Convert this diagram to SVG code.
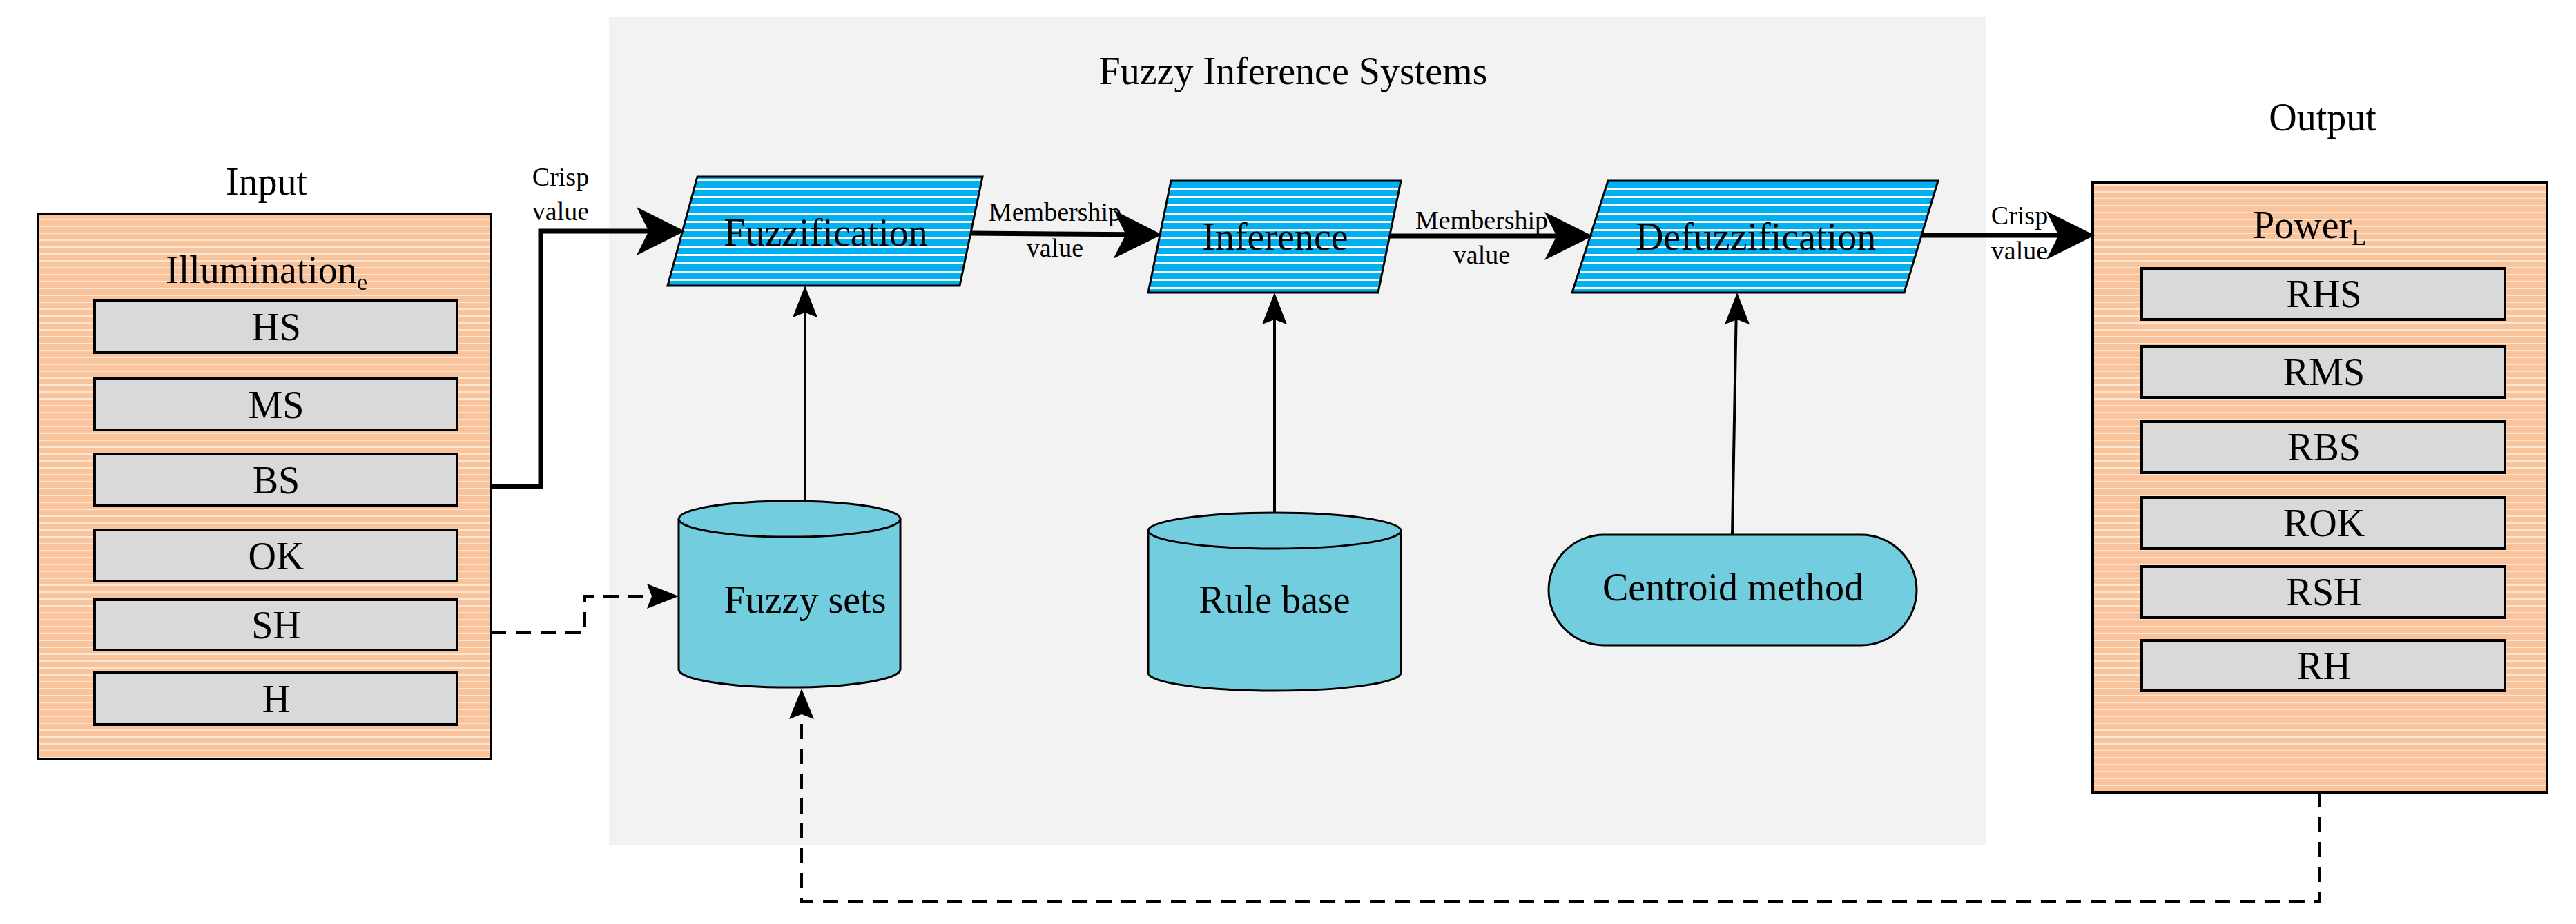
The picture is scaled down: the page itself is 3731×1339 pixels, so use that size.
<svg xmlns="http://www.w3.org/2000/svg" width="3731" height="1339" viewBox="0 0 3731 1339">
<defs>
<pattern id="blue" width="10" height="12" patternUnits="userSpaceOnUse"><rect width="10" height="12" fill="#00b0f0"/><rect y="8" width="10" height="3" fill="#ffffff"/></pattern>
<pattern id="orange" width="10" height="10" patternUnits="userSpaceOnUse"><rect width="10" height="10" fill="#f9c39c"/><rect y="7" width="10" height="2" fill="#fde6d4"/></pattern>
<marker id="ah" markerWidth="10" markerHeight="10" refX="9" refY="5" orient="auto" markerUnits="strokeWidth"><path d="M0,0 L10,5 L0,10 L2.5,5 z" fill="#000"/></marker>
</defs>
<style>
text{font-family:"Liberation Serif","Times New Roman",serif;fill:#000;text-anchor:middle}
.big{font-size:56px}
.sm{font-size:38px}
.item{fill:#d9d9d9;stroke:#000;stroke-width:4}
.para{fill:url(#blue);stroke:#000;stroke-width:3}
.cyl{fill:#72cddf;stroke:#000;stroke-width:3}
.ln{fill:none;stroke:#000;stroke-width:7}
.thin{fill:none;stroke:#000;stroke-width:4}
.dash{fill:none;stroke:#000;stroke-width:4;stroke-dasharray:22 14}
</style>
<rect x="882" y="24" width="1994" height="1201" fill="#f2f2f2"/>
<text class="big" x="1873" y="122">Fuzzy Inference Systems</text>
<g id="input">
<text class="big" x="386" y="282">Input</text>
<rect x="55" y="310" width="656" height="790" fill="url(#orange)" stroke="#000" stroke-width="4"/>
<text class="big" x="386" y="410">Illumination<tspan font-size="34" dy="10">e</tspan></text>
<rect class="item" x="137" y="436" width="525" height="75"/><text class="big" x="400" y="493">HS</text>
<rect class="item" x="137" y="549" width="525" height="74"/><text class="big" x="400" y="606">MS</text>
<rect class="item" x="137" y="658" width="525" height="75"/><text class="big" x="400" y="715">BS</text>
<rect class="item" x="137" y="768" width="525" height="74"/><text class="big" x="400" y="825">OK</text>
<rect class="item" x="137" y="869" width="525" height="73"/><text class="big" x="400" y="925">SH</text>
<rect class="item" x="137" y="975" width="525" height="75"/><text class="big" x="400" y="1032">H</text>
</g>
<g id="output">
<text class="big" x="3364" y="189">Output</text>
<rect x="3031" y="264" width="658" height="884" fill="url(#orange)" stroke="#000" stroke-width="4"/>
<text class="big" x="3345" y="345">Power<tspan font-size="34" dy="10">L</tspan></text>
<rect class="item" x="3102" y="389" width="526" height="74"/><text class="big" x="3366" y="445">RHS</text>
<rect class="item" x="3102" y="502" width="526" height="74"/><text class="big" x="3366" y="558">RMS</text>
<rect class="item" x="3102" y="611" width="526" height="74"/><text class="big" x="3366" y="667">RBS</text>
<rect class="item" x="3102" y="721" width="526" height="74"/><text class="big" x="3366" y="777">ROK</text>
<rect class="item" x="3102" y="821" width="526" height="74"/><text class="big" x="3366" y="877">RSH</text>
<rect class="item" x="3102" y="928" width="526" height="73"/><text class="big" x="3366" y="984">RH</text>
</g>
<g id="fuzzification"><polygon class="para" points="1010,256 1423,256 1390,414 967,414"/><text class="big" x="1196" y="356">Fuzzification</text></g>
<g id="inference"><polygon class="para" points="1696,262 2029,262 1996,424 1663,424"/><text class="big" x="1847" y="362">Inference</text></g>
<g id="defuzzification"><polygon class="para" points="2329,262 2807,262 2758,424 2277,424"/><text class="big" x="2543" y="362">Defuzzification</text></g>
<g id="fuzzysets"><path class="cyl" d="M983,752 A160,26 0 0 1 1304,752 V970 A160,26 0 0 1 983,970 Z"/><path class="cyl" d="M983,752 A160,26 0 0 0 1304,752"/><text class="big" x="1166" y="888">Fuzzy sets</text></g>
<g id="rulebase"><path class="cyl" d="M1663,769 A183,26 0 0 1 2029,769 V975 A183,26 0 0 1 1663,975 Z"/><path class="cyl" d="M1663,769 A183,26 0 0 0 2029,769"/><text class="big" x="1846" y="888">Rule base</text></g>
<g id="centroid"><rect class="cyl" x="2243" y="775" width="533" height="160" rx="80" ry="80"/><text class="big" x="2510" y="870">Centroid method</text></g>
<g id="labels">
<text class="sm" x="812" y="269">Crisp</text><text class="sm" x="812" y="319">value</text>
<text class="sm" x="1528" y="320">Membership</text><text class="sm" x="1528" y="372">value</text>
<text class="sm" x="2146" y="332">Membership</text><text class="sm" x="2146" y="382">value</text>
<text class="sm" x="2925" y="325">Crisp</text><text class="sm" x="2925" y="376">value</text>
</g>
<g id="connectors">
<polyline class="ln" points="711,705 783,705 783,335 985,335" marker-end="url(#ah)"/>
<line class="ln" x1="1405" y1="338" x2="1676" y2="340" marker-end="url(#ah)"/>
<line class="ln" x1="2012" y1="342" x2="2300" y2="342" marker-end="url(#ah)"/>
<line class="ln" x1="2782" y1="341" x2="3027" y2="341" marker-end="url(#ah)"/>
<line class="thin" x1="1166" y1="726" x2="1166" y2="440"/>
<path d="M1166,414 L1148,460 L1166,453 L1184,460 Z"/>
<line class="thin" x1="1846" y1="743" x2="1846" y2="440"/>
<path d="M1846,424 L1828,470 L1846,463 L1864,470 Z"/>
<line class="thin" x1="2509" y1="775" x2="2515" y2="440"/>
<path d="M2516,424 L2498,470 L2516,463 L2534,470 Z"/>
<polyline class="dash" points="711,917 847,917 847,864 960,864"/>
<path d="M983,864 L937,846 L944,864 L937,882 Z"/>
<polyline class="dash" points="3360,1148 3360,1306 1161,1306 1161,1020"/>
<path d="M1161,998 L1143,1042 L1161,1035 L1179,1042 Z"/>
</g>
</svg>
